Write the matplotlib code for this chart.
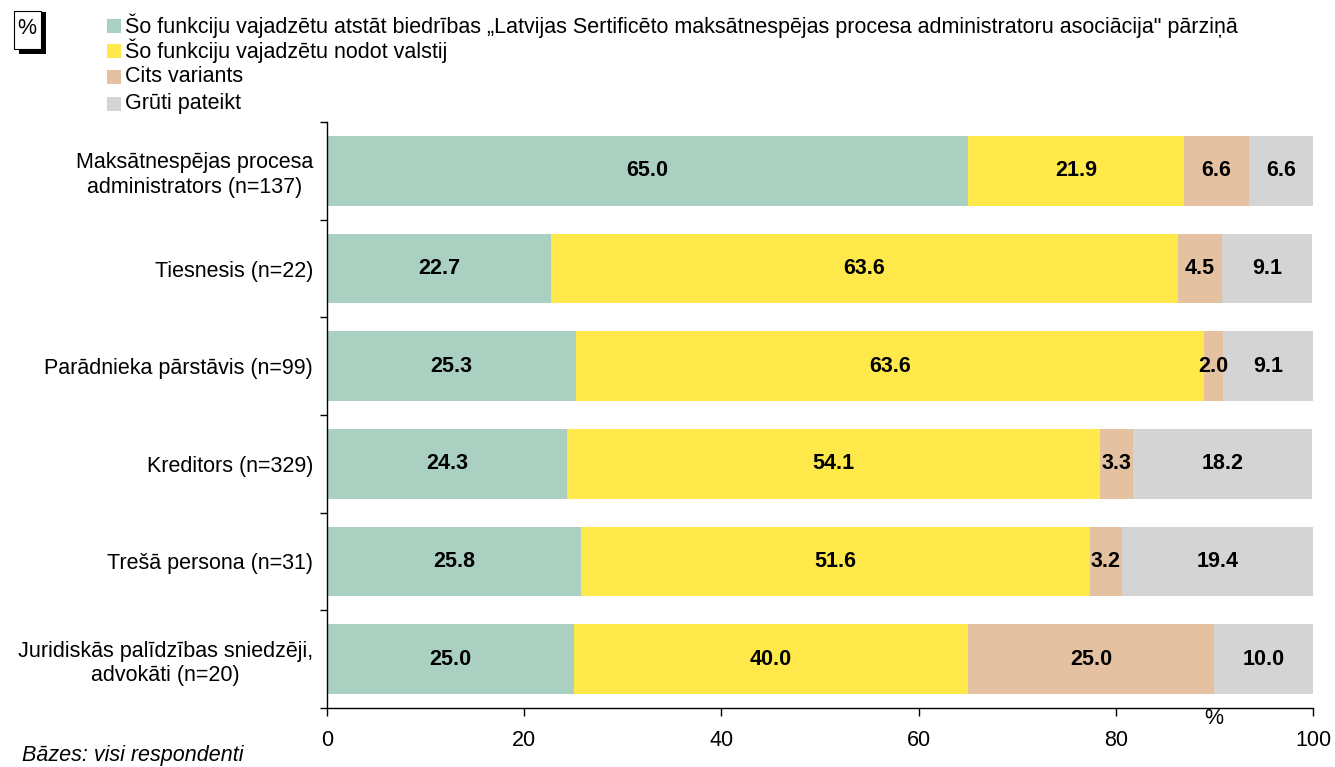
import matplotlib
matplotlib.use("Agg")
import matplotlib.pyplot as plt
from matplotlib.patches import Rectangle
import numpy as np

plt.rcParams['font.family'] = ['Liberation Sans', 'DejaVu Sans']

categories = [
    "Maksātnespējas procesa\nadministrators (n=137)",
    "Tiesnesis (n=22)",
    "Parādnieka pārstāvis (n=99)",
    "Kreditors (n=329)",
    "Trešā persona (n=31)",
    "Juridiskās palīdzības sniedzēji,\nadvokāti (n=20)",
]
series_names = [
    "Šo funkciju vajadzētu atstāt biedrības „Latvijas Sertificēto maksātnespējas procesa administratoru asociācija\" pārziņā",
    "Šo funkciju vajadzētu nodot valstij",
    "Cits variants",
    "Grūti pateikt",
]
s_atstat = [65.0, 22.7, 25.3, 24.3, 25.8, 25.0]
s_valstij = [21.9, 63.6, 63.6, 54.1, 51.6, 40.0]
s_cits = [6.6, 4.5, 2.0, 3.3, 3.2, 25.0]
s_gruti = [6.6, 9.1, 9.1, 18.2, 19.4, 10.0]
x_ticks = [0, 20, 40, 60, 80, 100]

colors = ["#A9D0C0", "#FFE84A", "#E3C1A1", "#D4D4D4"]
FS = 15.5

fig = plt.figure(figsize=(13.35, 7.67), dpi=100)
ax = fig.add_axes([327/1335, 1-708/767, (1313-327)/1335, (708-122)/767])

series = [s_atstat, s_valstij, s_cits, s_gruti]
y = np.arange(len(categories))
left = np.zeros(len(categories))
for vals, col in zip(series, colors):
    vals = np.array(vals)
    ax.barh(y, vals, left=left, height=0.71, color=col, edgecolor='none')
    for yi, (l, v) in enumerate(zip(left, vals)):
        ax.text(l + v/2, yi, f"{v:.1f}", ha='center', va='center',
                fontsize=FS, fontweight='bold', color='black')
    left = left + vals

ax.set_xlim(0, 100)
ax.set_ylim(len(categories) - 0.5, -0.5)
ax.set_xticks(x_ticks)
ax.set_xticklabels([str(t) for t in x_ticks], fontsize=FS)
ax.set_yticks(y)
ax.set_yticklabels(categories, fontsize=FS, multialignment='center')
ax.tick_params(axis='y', length=0, pad=10)
ax.set_yticks(np.arange(len(categories)+1) - 0.5, minor=True)
ax.tick_params(axis='y', which='minor', length=5, direction='out', width=1)
ax.tick_params(axis='x', length=6, direction='out', width=1, pad=10)
for s in ['top', 'right']:
    ax.spines[s].set_visible(False)
for s in ['left', 'bottom']:
    ax.spines[s].set_linewidth(1)

# "%" x-axis unit label
fig.text(1214/1335, 1-719/767, "%", ha='center', va='center', fontsize=FS)

# legend
leg_y = [26, 51, 77, 104]
for name, col, yy in zip(series_names, colors, leg_y):
    fig.patches.append(Rectangle((107/1335, 1-(yy+7)/767), 14/1335, 14/767,
                                 transform=fig.transFigure, facecolor=col, edgecolor='none'))
    fig.text(125/1335, 1-yy/767, name, ha='left', va='center', fontsize=FS)

# "%" box with shadow
fig.patches.append(Rectangle((19/1335, 1-54/767), 27/1335, 42/767,
                             transform=fig.transFigure, facecolor='black', edgecolor='none'))
fig.patches.append(Rectangle((14/1335, 1-49/767), 27/1335, 38/767,
                             transform=fig.transFigure, facecolor='white', edgecolor='black', linewidth=0.8))
fig.text(27/1335, 1-29/767, "%", ha='center', va='center', fontsize=FS)

fig.text(22/1335, 1-755/767, "Bāzes: visi respondenti", ha='left', va='center',
         fontsize=FS, style='italic')

fig.savefig("out.png", dpi=100)
